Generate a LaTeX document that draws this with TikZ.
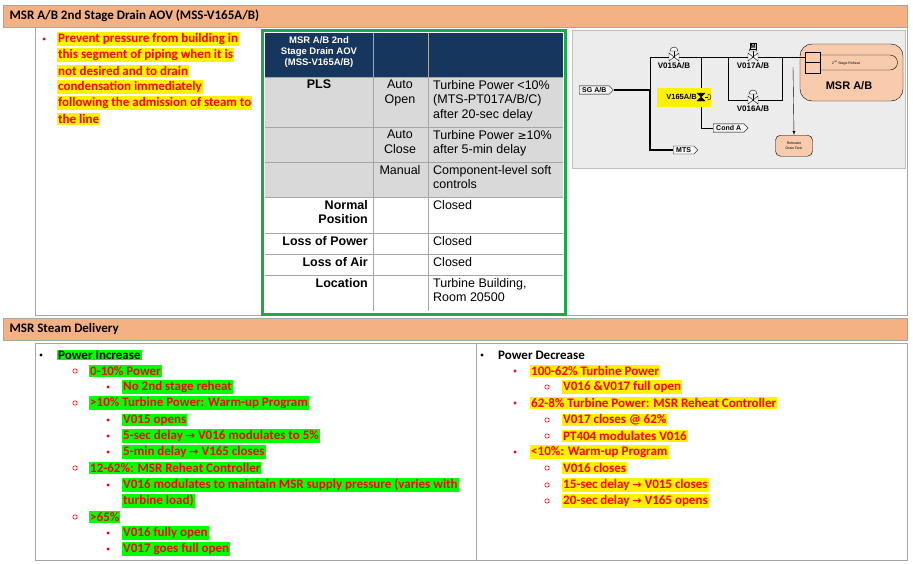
\documentclass[tikz,border=0pt]{standalone}
\usepackage{fontspec}
\setmainfont{Carlito}
\newfontfamily\arial{Liberation Sans}
\newfontfamily\dejavu{DejaVu Sans}
\usetikzlibrary{shapes.symbols}
\definecolor{hdrfill}{HTML}{F4B183}
\definecolor{navy}{HTML}{17365D}
\definecolor{tblgray}{HTML}{D9D9D9}
\definecolor{tblgreen}{HTML}{1FA84A}
\definecolor{msrfill}{HTML}{F8CBAD}
\definecolor{hlgreen}{HTML}{00FF00}
\newcommand{\ar}{{\dejavu\fontsize{11}{13}\selectfont →}}
\tikzset{
  hdrbar/.style={draw=gray!70,fill=hdrfill},
  hdrtext/.style={anchor=west,font=\bfseries\fontsize{13}{15}\selectfont},
  txt/.style={anchor=west,inner xsep=1pt,inner ysep=1pt,font=\bfseries\fontsize{13}{14.5}\selectfont,text=red},
  hly/.style={txt,fill=yellow},
  hlg/.style={txt,fill=hlgreen},
  tbl/.style={font=\arial\fontsize{12.5}{14.5}\selectfont,inner sep=0pt,anchor=north},
  tblb/.style={tbl,font=\arial\bfseries\fontsize{12.5}{14.5}\selectfont},
  tag/.style={signal,signal to=east,draw,fill=gray!8,font=\arial\bfseries\fontsize{7}{8}\selectfont,inner xsep=3pt,inner ysep=1.5pt,anchor=west},
  pipe/.style={draw,line width=0.8pt},
  bigpipe/.style={draw,line width=2pt}
}
\newcommand{\valve}[3]{% x, y, label
  \draw[fill=white] (#1-5,#2-4) -- (#1+5,#2+4) -- (#1+5,#2-4) -- (#1-5,#2+4) -- cycle;
  \draw (#1,#2) -- (#1,#2-6);
  \draw[fill=white] (#1-4,#2-6) arc (180:360:4) -- cycle;
  \node[font=\arial\bfseries\fontsize{8}{9}\selectfont,inner sep=0pt] at (#1,#2+9) {#3};
}
\begin{document}
\begin{tikzpicture}[x=1pt,y=-1pt]
\useasboundingbox[fill=white] (0,0) rectangle (913,563);

% top section
\draw[hdrbar] (3,5) rectangle (907,27);
\node[hdrtext] (hdr1) at (6,16) {MSR A/B 2nd Stage Drain AOV (MSS-V165A/B)};
\draw[gray!70] (35,27) -- (35,315) -- (907,315) -- (907,27);
\fill[red] (44,39) circle (1.6);
\foreach \t [count=\i from 0] in {Prevent pressure from building in,this segment of piping when it is,not desired and to drain,condensation immediately,following the admission of steam to,the line}
  \node[hly] (purp-\i) at (57,39+16*\i) {\t};

% table
\draw[tblgreen,line width=3pt] (262.5,30.5) rectangle (565.5,314);
\fill[navy] (265,33) rectangle (563,77);
\fill[tblgray] (265,77) rectangle (563,197);
\foreach \y in {77,127,162,197,233,254,275} \draw[gray!70,line width=0.8pt] (265,\y) -- (563,\y);
\foreach \x in {373,428} \draw[gray!70,line width=0.8pt] (\x,33) -- (\x,311);
\node[tblb,text=white,align=center,font=\arial\bfseries\fontsize{9.5}{11}\selectfont] (th) at (319,36) {MSR A/B 2nd\\Stage Drain AOV\\(MSS-V165A/B)};
\node[tblb] (pls) at (319,80) {PLS};
\node[tbl,align=center] (aopen) at (400,80) {Auto\\Open};
\node[tbl,align=left,anchor=north west] (aopen-c) at (433,80) {Turbine Power <10\%\\(MTS-PT017A/B/C)\\after 20-sec delay};
\node[tbl,align=center] (aclose) at (400,130) {Auto\\Close};
\node[tbl,align=left,anchor=north west] (aclose-c) at (433,130) {Turbine Power {\dejavu\fontsize{11}{13}\selectfont ≥}10\%\\after 5-min delay};
\node[tbl] (man) at (400,165) {Manual};
\node[tbl,align=left,anchor=north west] (man-c) at (433,165) {Component-level soft\\controls};
\node[tblb,align=right,anchor=north east] (npos) at (368,200) {Normal\\Position};
\node[tbl,anchor=north west] (npos-c) at (433,200) {Closed};
\node[tblb,anchor=north east] (lpow) at (368,236) {Loss of Power};
\node[tbl,anchor=north west] (lpow-c) at (433,236) {Closed};
\node[tblb,anchor=north east] (lair) at (368,257) {Loss of Air};
\node[tbl,anchor=north west] (lair-c) at (433,257) {Closed};
\node[tblb,anchor=north east] (loc) at (368,278) {Location};
\node[tbl,align=left,anchor=north west] (loc-c) at (433,278) {Turbine Building,\\Room 20500};

% schematic
\draw[gray!50,fill=gray!15] (572,30) rectangle (905,168);
\draw[fill=msrfill,rounded corners=12pt] (800,44) rectangle (903,101);
\node[font=\arial\bfseries\fontsize{11}{12}\selectfont] (msr) at (849,86) {MSR A/B};
\draw[fill=msrfill] (810,55) -- (890,55) arc (-90:90:7.5) -- (810,70);
\node[font=\arial\fontsize{3.5}{4}\selectfont] (reheat) at (846,62.5) {2\textsuperscript{nd} Stage Reheat};
\draw[fill=msrfill] (805,52) rectangle (820,73);
\draw (805,62.5) -- (820,62.5);
\node[draw,fill=msrfill,rounded corners=5pt,align=center,font=\arial\fontsize{3.5}{4.5}\selectfont,minimum width=37pt,minimum height=21pt,anchor=north] (rdt) at (794,135) {Reheater\\Drain Tank};
\draw[-latex] (793,67) -- (rdt.north);
\node[tag] (sg) at (579,90) {SG A/B};
\node[tag] (mts) at (673,150) {MTS};
\node[tag] (cond) at (713,128) {Cond A};
\coordinate (jn) at (650,90);
\draw[bigpipe] (sg.east) -- (jn) |- (mts.west);
\draw[pipe] (jn) -- (650,57) -- (805,57);
\draw[pipe] (701,57) |- (cond.west);
\draw[pipe] (728,57) |- (782,100) -- (782,57);
\fill[yellow] (657,88) rectangle (711,107);
\node[font=\arial\bfseries\fontsize{7.5}{9}\selectfont,inner sep=0pt,anchor=east] (v165) at (697,97) {V165A/B};
\draw[fill=black] (697,93) -- (705,93) -- (697,101) -- (705,101) -- cycle;
\draw (705,97) -- (708,97);
\draw (708,94) arc (-90:90:3) -- cycle;
\valve{674}{57}{V015A/B}
\valve{753}{57}{V017A/B}
\valve{753}{100}{V016A/B}
\node[draw,fill=gray!30,font=\arial\bfseries\fontsize{6}{7}\selectfont,inner sep=0.8pt] (motor) at (753,46) {M};

% bottom section
\draw[hdrbar] (3,318) rectangle (907,340);
\node[hdrtext] (hdr2) at (6,329) {MSR Steam Delivery};
\draw[gray!70] (35,343) rectangle (907,560);
\draw[gray!70] (476,343) -- (476,560);

% power increase
\fill (41,355) circle (1.6);
\node[hlg,text=black] (inc) at (57,355) {Power Increase};
\foreach \y in {371,403,468,517} \draw[red,line width=0.6pt] (75,\y) circle (2.2);
\foreach \y in {387,420,436,452,485,533,549} \fill[red] (108,\y) circle (1.6);
\node[hlg] (inc-a) at (89,371) {0-10\% Power};
\node[hlg] (inc-a1) at (122,387) {No 2nd stage reheat};
\node[hlg] (inc-b) at (89,403) {>10\% Turbine Power: Warm-up Program};
\node[hlg] (inc-b1) at (122,420) {V015 opens};
\node[hlg] (inc-b2) at (122,436) {5-sec delay \ar{} V016 modulates to 5\%};
\node[hlg] (inc-b3) at (122,452) {5-min delay \ar{} V165 closes};
\node[hlg] (inc-c) at (89,468) {12-62\%: MSR Reheat Controller};
\node[hlg] (inc-c1) at (122,485) {V016 modulates to maintain MSR supply pressure (varies with};
\node[hlg] (inc-c1b) at (122,501) {turbine load)};
\node[hlg] (inc-d) at (89,517) {>65\%};
\node[hlg] (inc-d1) at (122,533) {V016 fully open};
\node[hlg] (inc-d2) at (122,549) {V017 goes full open};

% power decrease
\fill (482,355) circle (1.6);
\node[txt,text=black] (dec) at (497,355) {Power Decrease};
\foreach \y in {371,403,452} \fill[red] (515,\y) circle (1.6);
\foreach \y in {387,420,436,468,485,501} \draw[red,line width=0.6pt] (547,\y) circle (2.2);
\node[hly] (dec-a) at (530,371) {100-62\% Turbine Power};
\node[hly] (dec-a1) at (562,387) {V016 \&V017 full open};
\node[hly] (dec-b) at (530,403) {62-8\% Turbine Power: MSR Reheat Controller};
\node[hly] (dec-b1) at (562,420) {V017 closes @ 62\%};
\node[hly] (dec-b2) at (562,436) {PT404 modulates V016};
\node[hly] (dec-c) at (530,452) {<10\%: Warm-up Program};
\node[hly] (dec-c1) at (562,468) {V016 closes};
\node[hly] (dec-c2) at (562,485) {15-sec delay \ar{} V015 closes};
\node[hly] (dec-c3) at (562,501) {20-sec delay \ar{} V165 opens};
\end{tikzpicture}
\end{document}
